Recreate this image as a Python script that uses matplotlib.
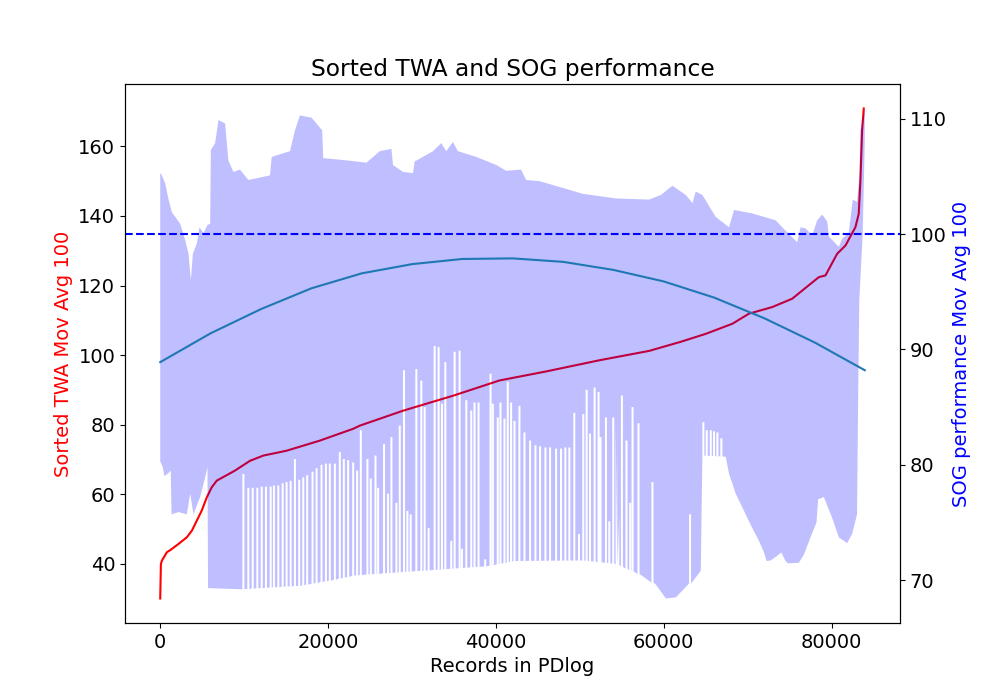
import numpy as np
import matplotlib
matplotlib.use("Agg")
import matplotlib.pyplot as plt

plt.rcParams['font.size'] = 14

# sorted TWA (moving avg 100), left axis
twa_x = [0, 80, 200, 790, 1190, 2180, 3170, 3770, 4360, 4950, 5550, 6140, 6740,
         8920, 10700, 12290, 15060, 19020, 22990, 23780, 28930, 34880, 40430,
         46000, 52320, 58260, 62000, 65000, 68170, 70150, 72920, 75300, 78470,
         79270, 80650, 81650, 82840, 83230, 83430, 83630, 83830]
twa_y = [30.0, 39.9, 40.9, 43.3, 43.9, 45.7, 47.6, 49.5, 52.4, 55.3, 59.1, 62.0, 63.9,
         66.8, 69.6, 71.1, 72.5, 75.4, 78.8, 79.7, 84.0, 88.3, 92.7,
         95.3, 98.5, 101.2, 103.8, 106.1, 109.0, 111.9, 113.8, 116.2, 122.4,
         122.9, 129.1, 131.5, 136.8, 140.6, 150.2, 164.6, 170.9]

# SOG performance (moving avg 100) - upper and lower envelope of the noisy trace
sog_hi_x = [0, 200, 590, 990, 1390, 2380, 2970, 3370, 3650, 3890, 4360, 4680, 5150,
            5630, 5950, 6030, 6540, 6940, 7730, 8120, 8720, 9510, 10500, 13080,
            13280, 15460, 16050, 16650, 18040, 19300, 19420, 22200, 24580, 26160,
            27550, 27740, 28930, 30120, 30320, 32500, 33490, 34080, 34880, 35470,
            37660, 40040, 41220, 43000, 43600, 45190, 47560, 50340, 54300, 58260,
            59650, 61030, 62620, 63420, 63810, 64600, 66190, 67780, 68370, 70550,
            73330, 74520, 75900, 76300, 76900, 77690, 78280, 78880, 79470, 79670,
            80860, 81250, 82040, 82520, 83030, 83300, 83430, 83830, 83950]
sog_hi_y = [105.3, 105.1, 104.4, 103.0, 101.9, 100.9, 99.5, 98.3, 96.0, 98.3, 99.2, 100.6, 100.1,
            100.8, 100.9, 107.3, 107.9, 109.9, 109.6, 106.4, 105.4, 105.6, 104.7, 105.1,
            106.7, 107.2, 109.0, 110.3, 110.1, 109.0, 106.6, 106.4, 106.2, 107.2,
            107.4, 106.0, 105.4, 105.3, 106.3, 107.2, 107.9, 107.2, 108.0, 107.2,
            106.7, 106.0, 105.5, 105.6, 104.7, 104.6, 104.1, 103.5, 103.1, 103.0,
            103.4, 104.2, 103.4, 102.7, 103.7, 103.4, 101.5, 100.6, 102.1, 101.8,
            101.2, 100.3, 99.3, 100.6, 100.5, 99.9, 101.2, 101.7, 101.1, 99.8,
            98.9, 99.6, 100.1, 103.0, 102.8, 105.0, 109.0, 110.5, 110.9]

sog_lo_x = [0, 300, 500, 1000, 1250, 1350, 2200, 3170, 3570, 3960, 4750, 5350, 5630,
            5700, 9700, 12000, 16650, 20600, 23190, 31110, 39040, 42210, 50340,
            54300, 57070, 59060, 60250, 61440, 63020, 64410, 64600, 64650, 67380,
            67780, 68570, 69560, 70350, 71340, 71940, 72250, 72730, 73520, 73990,
            74510, 74790, 76100, 76690, 77480, 78200, 78390, 79070, 80060, 80860,
            81850, 82440, 83030, 83150, 83300, 83700, 83950]
sog_lo_y = [80.3, 79.8, 79.0, 79.3, 79.5, 75.7, 75.9, 75.7, 77.5, 75.7, 77.2, 78.9, 79.8,
            69.3, 69.2, 69.3, 69.5, 70.0, 70.4, 70.8, 71.2, 71.65, 71.7,
            71.4, 70.5, 69.6, 68.4, 68.5, 69.6, 70.8, 70.9, 80.8, 80.7,
            79.2, 77.5, 76.0, 74.8, 73.4, 72.4, 71.65, 71.7, 72.1, 72.4,
            71.65, 71.45, 71.5, 72.2, 73.7, 75.0, 77.0, 77.2, 75.4, 73.7,
            73.2, 74.0, 75.7, 85.0, 94.3, 100.0, 108.0]

# white gaps where the trace does not reach down to the lower envelope
gap_x = [9910, 10500, 11020, 11570, 12090, 12600, 13160, 13550, 14070, 14590, 15060,
         15540, 16050, 16560, 17040, 17510, 18150, 18630, 19220, 19740, 20210,
         20810, 21400, 21880, 22390, 22990, 23460, 23900, 24690, 25090, 25650, 25960,
         26670, 27150, 27550, 28140, 28540, 29050, 29450, 29840, 30520, 31110, 31510,
         31980, 32700, 33170, 33570, 33970, 34680, 35080, 35670, 35950, 36470, 37060,
         37450, 37930, 38720, 39360, 39630, 40220, 40540, 41020, 41410, 41810, 42210,
         42800, 43400, 44070, 44710, 45260, 45900, 46450, 47170, 47760, 48270, 48750,
         49340, 49900, 50410, 50810, 51210, 51760, 52230, 52470, 53110, 53510, 53980,
         54380, 54580, 55010, 55560, 56000, 56280, 56990, 58650, 63130, 64720, 65120,
         65600, 65990, 66390, 66860]
gap_top = [79.2, 78.0, 78.0, 78.0, 78.1, 78.1, 78.1, 78.2, 78.2, 78.4, 78.5,
           78.6, 80.5, 78.7, 78.9, 79.1, 79.4, 79.7, 80.0, 80.1, 80.1,
           80.1, 81.1, 80.5, 80.4, 80.2, 79.5, 83.0, 80.5, 78.8, 80.8, 78.0,
           81.8, 77.5, 82.4, 76.7, 83.4, 88.2, 76.0, 75.7, 88.3, 87.3, 85.0,
           74.5, 90.3, 90.2, 85.3, 88.9, 73.4, 89.8, 89.9, 72.7, 85.6, 84.7,
           85.4, 85.4, 71.8, 87.9, 85.3, 84.1, 85.4, 84.0, 87.2, 85.4, 83.8,
           85.1, 82.8, 82.1, 81.7, 81.6, 81.5, 81.5, 81.4, 81.4, 81.5, 81.5,
           84.5, 74.0, 84.4, 86.5, 82.7, 86.7, 86.3, 82.4, 84.1, 75.1, 84.1,
           83.8, 75.7, 86.0, 82.1, 76.7, 85.0, 83.6, 78.5, 75.7, 83.7, 83.0,
           83.0, 82.9, 82.8, 82.3]

# 2nd order fit of SOG performance
fit_x = [0, 6000, 12000, 18000, 24000, 30000, 36000, 42000, 48000, 54000, 60000,
         66000, 72000, 78000, 83950]
fit_y = [88.9, 91.4, 93.5, 95.3, 96.6, 97.4, 97.85, 97.9, 97.6, 96.9, 95.9,
         94.5, 92.7, 90.6, 88.2]

# build the lower outline with the gaps cut into it
w = 120
pts = []
for x, y in zip(sog_lo_x, sog_lo_y):
    if not any(abs(x - g) <= w for g in gap_x):
        pts.append((x, 0.5, y))
for g, top in zip(gap_x, gap_top):
    base = np.interp(g, sog_lo_x, sog_lo_y)
    pts += [(g - w, 0, base), (g - w, 1, top), (g + w, 0, top), (g + w, 1, base)]
pts.sort(key=lambda p: (p[0], p[1]))
lo_x = np.array([p[0] for p in pts])
lo_y = np.array([p[2] for p in pts])

fig, ax1 = plt.subplots(figsize=(10, 7))
ax1.plot(twa_x, twa_y, color='red')
ax1.set_xlabel('Records in PDlog')
ax1.set_ylabel('Sorted TWA Mov Avg 100', color='red')

ax2 = ax1.twinx()
ax2.fill(np.concatenate([sog_hi_x, lo_x[::-1]]),
         np.concatenate([sog_hi_y, lo_y[::-1]]),
         color='b', alpha=0.25, linewidth=0)
ax2.axhline(100, color='b', linestyle='--')
ax2.plot(fit_x, fit_y)
ax2.set_ylabel('SOG performance Mov Avg 100', color='b')

plt.title('Sorted TWA and SOG performance')
plt.savefig('out.png')
